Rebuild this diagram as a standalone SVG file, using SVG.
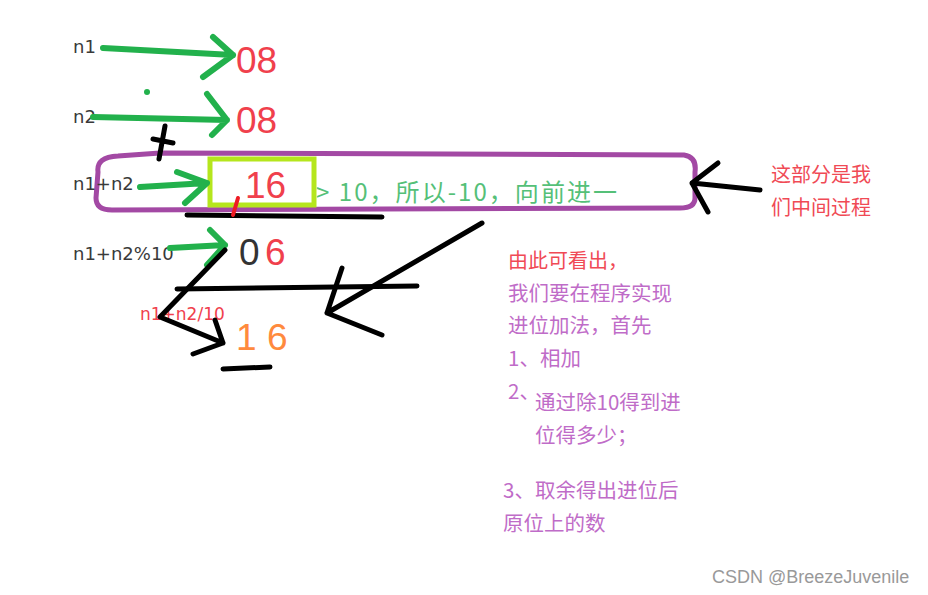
<svg xmlns="http://www.w3.org/2000/svg" width="928" height="595" viewBox="0 0 928 595">
<style>
.lbl{font-family:"DejaVu Sans","Liberation Sans",sans-serif;font-size:18px;fill:#3a3a3a}
.big{font-family:"Liberation Sans",Arial,sans-serif;font-size:37px}
.red{fill:#f0404c}
.org{fill:#ff8a3d}
.gry{fill:#333333}
.cn{font-family:"Noto Sans CJK SC","Liberation Sans",sans-serif}
.cred{fill:#f04a55;font-size:20px}
.cpur{fill:#bf6cc8;font-size:20.5px}
.gs{fill:none;stroke:#22b14c;stroke-width:6;stroke-linecap:round;stroke-linejoin:round}
.bs{fill:none;stroke:#000;stroke-width:5;stroke-linecap:round;stroke-linejoin:round}
</style>
<rect width="928" height="595" fill="#ffffff"/>
<g id="purple-box"><path d="M98 172 Q96 157 118 156 L160 153 L684 155 Q697 157 695 172 L695 198 Q695 208 680 208 L112 210 Q96 210 96 198 Z" fill="none" stroke="#a349a4" stroke-width="5"/></g>
<g id="lime-box"><rect x="210" y="159" width="104" height="46" fill="none" stroke="#b5e61d" stroke-width="5"/></g>
<g id="labels">
<text class="lbl" x="73" y="53">n1</text>
<text class="lbl" x="73" y="123">n2</text>
<text class="lbl" x="73" y="190">n1+n2</text>
<text class="lbl" x="73" y="260">n1+n2%10</text>
<text x="140" y="320" font-family="DejaVu Sans,Liberation Sans,sans-serif" font-size="17" fill="#f0404c">n1+n2/10</text>
</g>
<g id="numbers">
<text class="big red" x="236" y="73">08</text>
<text class="big red" x="236" y="133">08</text>
<text class="big red" x="245" y="198">16</text>
<text class="big gry" x="239" y="265">0</text>
<text class="big red" x="265" y="265">6</text>
<text class="big org" x="236" y="350">1</text>
<text class="big org" x="267" y="350">6</text>
</g>
<g id="notes">
<text class="cn" x="316" y="201" font-size="24" fill="#55c078" textLength="301">&gt; 10，所以-10，向前进一</text>
<text class="cn cred" x="771" y="182">这部分是我</text>
<text class="cn cred" x="771" y="215">们中间过程</text>
<text class="cn cred" x="508" y="268">由此可看出，</text>
<text class="cn cpur" x="508" y="301">我们要在程序实现</text>
<text class="cn cpur" x="508" y="333">进位加法，首先</text>
<text class="cn cpur" x="508" y="366">1、相加</text>
<text class="cn cpur" x="508" y="399">2、</text>
<text class="cn cpur" x="535" y="410">通过除10得到进</text>
<text class="cn cpur" x="535" y="443">位得多少；</text>
<text class="cn cpur" x="503" y="498">3、取余得出进位后</text>
<text class="cn cpur" x="503" y="531">原位上的数</text>
</g>
<g id="connectors">
<path class="gs" d="M103 48 L233 55 M213 37 L233 55 L203 77"/>
<path class="gs" d="M93 117 L227 120 M207 94 L227 120 L212 135"/>
<path class="gs" d="M140 187 L207 183 M177 172 L207 183 L185 203"/>
<path class="gs" d="M170 248 L225 245 M210 230 L225 245 L207 265"/>
<circle cx="147" cy="92" r="3" fill="#22b14c"/>
<path class="bs" d="M165 126 L159 159 M153 139 L173 143"/>
<path class="bs" d="M187 215 L382 217"/>
<path d="M238 198 L233 215" fill="none" stroke="#ee1c24" stroke-width="4" stroke-linecap="round"/>
<path class="bs" d="M760 190 L692 183 M718 163 L692 183 L708 212"/>
<path class="bs" d="M482 223 L327 313 M342 268 L327 313 L382 335"/>
<path class="bs" d="M177 289 L417 286"/>
<path class="bs" d="M225 250 L160 317 L223 343 M215 320 L223 343 L193 354"/>
<path class="bs" d="M223 369 L270 367"/>
</g>
<g id="watermark"><text x="712" y="583" font-family="Liberation Sans,Arial,sans-serif" font-size="18" fill="#999999">CSDN @BreezeJuvenile</text></g>
</svg>
